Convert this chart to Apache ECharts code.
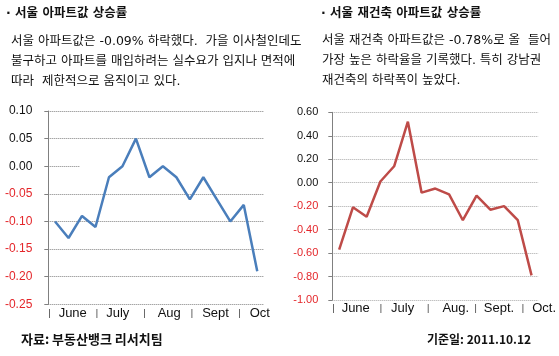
<!DOCTYPE html>
<html>
<head>
<meta charset="utf-8">
<script src="https://cdn.jsdelivr.net/npm/echarts@6/dist/echarts.min.js"></script>
<style>
html,body{margin:0;padding:0;background:#fff;}
#c{width:559px;height:356px;}
</style>
</head>
<body>
<div id="c"></div>
<script>
// ---- data ----
const weeksSeoul = ['w1','w2','w3','w4','w5','w6','w7','w8','w9','w10','w11','w12','w13','w14','w15','w16'];
const seoulApt = [-0.10,-0.13,-0.09,-0.11,-0.02,0.00,0.05,-0.02,0.00,-0.02,-0.06,-0.02,-0.06,-0.10,-0.07,-0.19];
const weeksRecon = ['w1','w2','w3','w4','w5','w6','w7','w8','w9','w10','w11','w12','w13','w14','w15'];
const seoulRecon = [-0.57,-0.21,-0.29,0.01,0.14,0.52,-0.085,-0.05,-0.10,-0.32,-0.11,-0.23,-0.20,-0.32,-0.79];
const monthsLeft = ['June','July','Aug','Sept','Oct'];
const monthsRight = ['June','July','Aug.','Sept.','Oct.'];

const titleLeft = '· 서울 아파트값 상승률';
const bodyLeft = ['서울 아파트값은 -0.09% 하락했다.  가을 이사철인데도',
                  '불구하고 아파트를 매입하려는 실수요가 입지나 면적에',
                  '따라  제한적으로 움직이고 있다.'];
const titleRight = '· 서울 재건축 아파트값 상승률';
const bodyRight = ['서울 재건축 아파트값은 -0.78%로 올  들어',
                   '가장 높은 하락율을 기록했다. 특히 강남권',
                   '재건축의 하락폭이 높았다.'];
const sourceText = '자료: 부동산뱅크 리서치팀';
const dateText = '기준일: 2011.10.12';

// ---- styles ----
const KFONT = '"Noto Sans CJK KR", "Noto Sans", sans-serif';
const BFONT = '"DejaVu Sans", "Noto Sans CJK KR", sans-serif';
const LFONT = '"Liberation Sans", Arial, sans-serif';
const monthGapLeft = [8, 8, 12, 9, 9];
const monthGapRight = [7, 9, 13, 7, 8];

function monthRich(gaps) {
  const r = { t: { fontSize: 9, color: '#333', fontFamily: LFONT, verticalAlign: 'middle' } };
  gaps.forEach((g, i) => {
    r['m' + i] = { fontSize: 13, color: '#111', fontFamily: LFONT, padding: [0, 0, 0, g], verticalAlign: 'middle' };
  });
  return r;
}
function monthFormatter(months) {
  return function (v) {
    const i = Math.round(v);
    if (Math.abs(v - i) > 1e-6 || i < 0 || i >= months.length) return '';
    return '{t||}{m' + i + '|' + months[i] + '}';
  };
}
function yLabelColor(v) { return v < -1e-9 ? '#e4262a' : '#111'; }

const chart = echarts.init(document.getElementById('c'), null, { renderer: 'canvas' });

const textEls = [];
function addText(x, y, txt, size, bold, font) {
  textEls.push({ type: 'text', left: x, top: y, silent: true,
    style: { text: txt, fontSize: size, fontWeight: bold ? 'bold' : 'normal', fontFamily: font, fill: '#111' } });
}
addText(6, 7, titleLeft, 12.5, true, BFONT);
bodyLeft.forEach((t, i) => addText(11, 35 + i * 20, t, 12.5, false, BFONT));
addText(321, 7, titleRight, 12.5, true, BFONT);
bodyRight.forEach((t, i) => addText(322, 34.5 + i * 20, t, 12.5, false, BFONT));
addText(21, 333, sourceText, 13, true, KFONT);
addText(427, 333.5, dateText, 12, true, KFONT);

// left 0.00 gridline is only a short stub in the reference
const leftSplitColors = ['#808080','#808080','#808080','#808080','#808080','rgba(0,0,0,0)','#808080','#808080'];

const option = {
  animation: false,
  backgroundColor: '#fff',
  graphic: textEls,
  grid: [
    { left: 48.3, top: 111, right: 295, bottom: 51.7 },
    { left: 332.3, top: 112.3, right: 19, bottom: 56 }
  ],
  xAxis: [
    { type: 'category', gridIndex: 0, data: weeksSeoul, boundaryGap: true, show: false, position: 'bottom' },
    { type: 'value', gridIndex: 0, min: 0, max: 4.54, interval: 1, position: 'bottom',
      axisLine: { show: false }, axisTick: { show: false }, splitLine: { show: false },
      axisLabel: { show: true, align: 'left', margin: 3, formatter: monthFormatter(monthsLeft), rich: monthRich(monthGapLeft), showMaxLabel: false } },
    { type: 'category', gridIndex: 1, data: weeksRecon, boundaryGap: true, show: false, position: 'bottom' },
    { type: 'value', gridIndex: 1, min: 0, max: 4.35, interval: 1, position: 'bottom',
      axisLine: { show: false }, axisTick: { show: false }, splitLine: { show: false },
      axisLabel: { show: true, align: 'left', margin: 2, formatter: monthFormatter(monthsRight), rich: monthRich(monthGapRight), showMaxLabel: false } }
  ],
  yAxis: [
    { type: 'value', gridIndex: 0, min: -0.25, max: 0.10, interval: 0.05,
      axisLine: { show: true, lineStyle: { color: '#808080', width: 1 } },
      axisTick: { show: true, length: 4, lineStyle: { color: '#808080' } },
      splitLine: { show: true, lineStyle: { color: leftSplitColors, type: 'dotted', width: 1 } },
      axisLabel: { margin: 16, fontSize: 12, fontFamily: LFONT,
        formatter: v => v.toFixed(2), color: yLabelColor } },
    { type: 'value', gridIndex: 1, min: -1.0, max: 0.6, interval: 0.2,
      axisLine: { show: true, lineStyle: { color: '#808080', width: 1 } },
      axisTick: { show: true, length: 4, lineStyle: { color: '#808080' } },
      splitLine: { show: true, lineStyle: { color: '#a8a8a8', type: 'dotted', width: 1 } },
      axisLabel: { margin: 14, fontSize: 11, fontFamily: LFONT,
        formatter: v => v.toFixed(2), color: yLabelColor } }
  ],
  series: [
    { type: 'line', xAxisIndex: 0, yAxisIndex: 0, data: seoulApt, symbol: 'none',
      lineStyle: { color: '#4a7ebb', width: 2.5 }, z: 3 },
    { type: 'line', xAxisIndex: 1, yAxisIndex: 0, data: [], symbol: 'none', silent: true,
      markLine: { symbol: 'none', silent: true, label: { show: false },
        lineStyle: { color: '#808080', type: 'dotted', width: 1 },
        data: [[{ coord: [0, 0] }, { coord: [0.67, 0] }]] } },
    { type: 'line', xAxisIndex: 2, yAxisIndex: 1, data: seoulRecon, symbol: 'none',
      lineStyle: { color: '#be4b48', width: 2.5 }, z: 3 }
  ]
};
chart.setOption(option);
</script>
</body>
</html>
